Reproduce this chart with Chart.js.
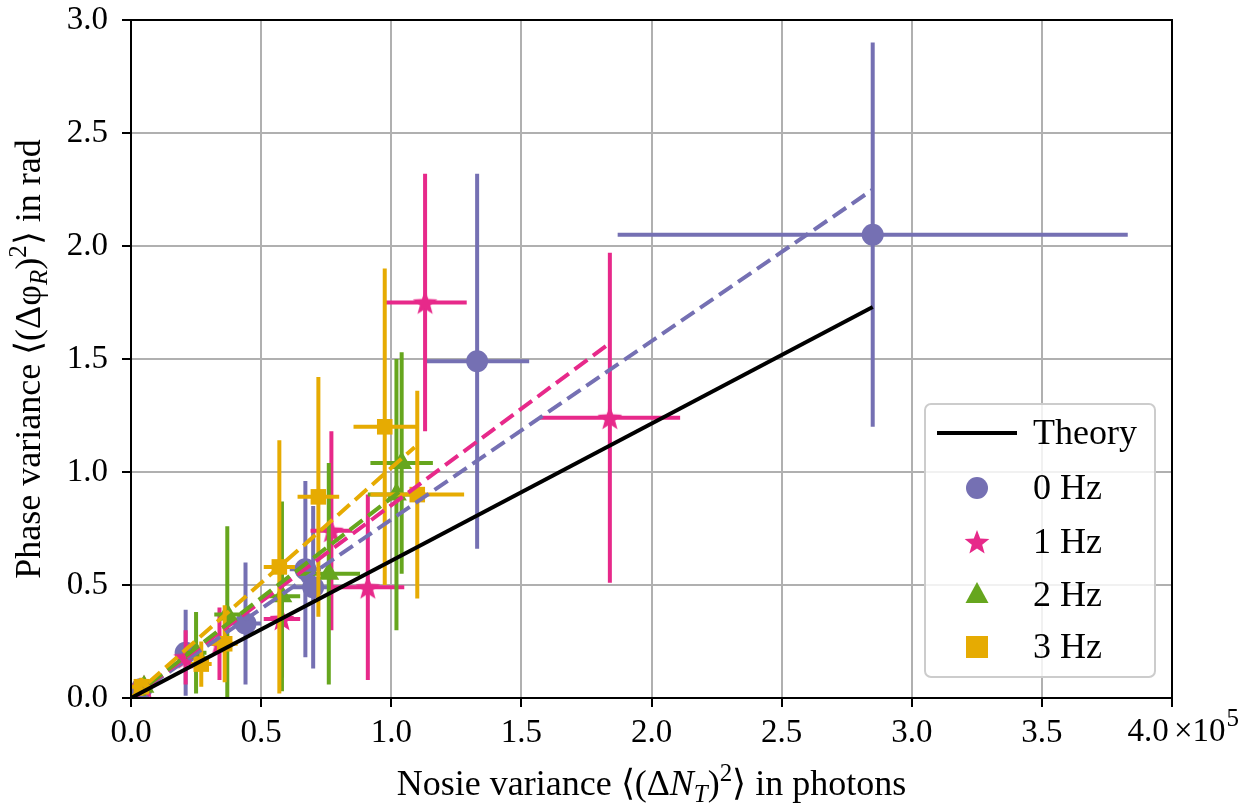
<!DOCTYPE html>
<html><head><meta charset="utf-8">
<script src="https://cdn.jsdelivr.net/npm/chart.js@4.4.1/dist/chart.umd.min.js"></script>
<style>html,body{margin:0;padding:0;background:#fff}canvas{display:block}</style>
</head><body>
<canvas id="c" width="1242" height="810"></canvas>
<script>
// ---------- data (x in units of 1e5 photons, y in rad) ----------
const seriesLabels = ['0 Hz', '1 Hz', '2 Hz', '3 Hz'];

const x0 = [0.04, 0.21, 0.44, 0.67, 0.70, 1.33, 2.85];
const y0 = [0.04, 0.20, 0.33, 0.57, 0.49, 1.49, 2.05];
const xe0 = [0.03, 0.04, 0.06, 0.06, 0.08, 0.20, 0.98];
const ye0 = [0.03, 0.19, 0.27, 0.39, 0.36, 0.83, 0.85];

const x1 = [0.05, 0.21, 0.34, 0.58, 0.77, 0.91, 1.13, 1.84];
const y1 = [0.05, 0.18, 0.24, 0.35, 0.74, 0.49, 1.75, 1.24];
const xe1 = [0.03, 0.03, 0.04, 0.07, 0.08, 0.14, 0.16, 0.27];
const ye1 = [0.03, 0.12, 0.16, 0.26, 0.44, 0.41, 0.57, 0.73];

const x2 = [0.05, 0.25, 0.37, 0.58, 0.76, 1.02, 1.04];
const y2 = [0.05, 0.20, 0.37, 0.45, 0.55, 0.90, 1.04];
const xe2 = [0.03, 0.04, 0.05, 0.07, 0.12, 0.11, 0.12];
const ye2 = [0.04, 0.18, 0.39, 0.42, 0.49, 0.60, 0.49];

const x3 = [0.04, 0.27, 0.36, 0.57, 0.72, 0.975, 1.10];
const y3 = [0.05, 0.15, 0.24, 0.58, 0.89, 1.20, 0.90];
const xe3 = [0.04, 0.04, 0.05, 0.06, 0.08, 0.12, 0.18];
const ye3 = [0.04, 0.10, 0.17, 0.56, 0.53, 0.70, 0.46];

// fitted (dashed) lines: endpoints
const fitX0 = [0, 2.85], fitY0 = [0, 2.25];
const fitX1 = [0, 1.84], fitY1 = [0, 1.57];
const fitX2 = [0, 1.04], fitY2 = [0, 0.92];
const fitX3 = [0, 1.09], fitY3 = [0, 1.11];

// theory line
const theoryX = [0, 2.85], theoryY = [0, 1.73];

const xTicks = [0, 0.5, 1, 1.5, 2, 2.5, 3, 3.5, 4];
const yTicks = [0, 0.5, 1, 1.5, 2, 2.5, 3];

// ---------- styling ----------
const colors = ['#7570b3', '#e7298a', '#66a61e', '#e6ab02'];
const FONT = '"Liberation Serif", "Times New Roman", serif';
const TICK_SIZE = 33, TITLE_SIZE = 36, SUB_SIZE = 25, LEG_SIZE = 36;

function starCanvas(color, r) {
  const c = document.createElement('canvas');
  const s = Math.ceil(2 * r + 2);
  c.width = c.height = s;
  const g = c.getContext('2d');
  g.translate(s / 2, s / 2 + 1);
  g.beginPath();
  for (let i = 0; i < 10; i++) {
    const rad = (i % 2) ? r * 0.42 : r;
    const a = -Math.PI / 2 + i * Math.PI / 5;
    g.lineTo(rad * Math.cos(a), rad * Math.sin(a));
  }
  g.closePath();
  g.fillStyle = color;
  g.fill();
  return c;
}
const starImg = starCanvas(colors[1], 13);
const markerStyles = ['circle', starImg, 'triangle', 'rect'];
const markerRadius = [11, 12, 12, 11];

function pts(xs, ys) { return xs.map((v, i) => ({x: v, y: ys[i]})); }
function errPts(xs, ys, xe, ye) {
  const out = [];
  xs.forEach((v, i) => {
    out.push({x: v - xe[i], y: ys[i]}, {x: v + xe[i], y: ys[i]}, {x: v, y: null});
    out.push({x: v, y: ys[i] - ye[i]}, {x: v, y: ys[i] + ye[i]}, {x: v, y: null});
  });
  return out;
}

const allX = [x0, x1, x2, x3], allY = [y0, y1, y2, y3];
const allXe = [xe0, xe1, xe2, xe3], allYe = [ye0, ye1, ye2, ye3];
const fitXs = [fitX0, fitX1, fitX2, fitX3], fitYs = [fitY0, fitY1, fitY2, fitY3];

const datasets = [];
for (let s = 0; s < 4; s++) {
  datasets.push({
    label: seriesLabels[s] + ' err',
    data: errPts(allX[s], allY[s], allXe[s], allYe[s]),
    showLine: true, spanGaps: false, pointRadius: 0, borderColor: colors[s],
    borderWidth: 4, borderCapStyle: 'butt', order: 40 - s * 2
  });
  datasets.push({
    label: seriesLabels[s],
    data: pts(allX[s], allY[s]),
    showLine: false, pointStyle: markerStyles[s], pointRadius: markerRadius[s],
    pointBackgroundColor: colors[s], pointBorderColor: colors[s], pointBorderWidth: 0,
    pointHoverRadius: markerRadius[s], order: 39 - s * 2
  });
}
for (let s = 0; s < 4; s++) {
  datasets.push({
    label: seriesLabels[s] + ' fit',
    data: pts(fitXs[s], fitYs[s]), showLine: true, pointRadius: 0,
    borderColor: colors[s], borderWidth: 4, borderDash: [16, 7], order: 10 - s
  });
}
datasets.push({
  label: 'Theory', data: pts(theoryX, theoryY), showLine: true, pointRadius: 0,
  borderColor: '#000', borderWidth: 4, order: 1
});

// ---------- plugins ----------
function drawRich(ctx, parts, x, y) {
  let total = 0;
  parts.forEach(p => {
    ctx.font = (p.italic ? 'italic ' : '') + (p.size || TITLE_SIZE) + 'px ' + FONT;
    p.w = ctx.measureText(p.t).width;
    total += p.w;
  });
  let cx = x - total / 2;
  parts.forEach(p => {
    ctx.font = (p.italic ? 'italic ' : '') + (p.size || TITLE_SIZE) + 'px ' + FONT;
    ctx.fillText(p.t, cx, y + (p.dy || 0));
    cx += p.w;
  });
}

const decor = {
  id: 'decor',
  afterDatasetsDraw(chart) {
    const {ctx, chartArea: a} = chart;
    ctx.save();
    ctx.strokeStyle = '#000';
    ctx.lineWidth = 2;
    ctx.strokeRect(a.left, a.top, a.right - a.left, a.bottom - a.top);
    ctx.restore();
  },
  afterDraw(chart) {
    const {ctx, chartArea: a} = chart;
    ctx.save();
    ctx.fillStyle = '#000';
    ctx.textBaseline = 'alphabetic';
    ctx.textAlign = 'left';
    // x title
    drawRich(ctx, [
      {t: 'Nosie variance \u27e8(\u0394'}, {t: 'N', italic: true},
      {t: 'T', italic: true, size: SUB_SIZE, dy: 7}, {t: ')'},
      {t: '2', size: SUB_SIZE, dy: -14}, {t: '\u27e9 in photons'}
    ], (a.left + a.right) / 2, 795);
    // last x tick label with offset text
    const xr = chart.scales.x.getPixelForValue(4);
    ctx.font = TICK_SIZE + 'px ' + FONT;
    ctx.textAlign = 'center';
    ctx.fillText('4.0', xr - 24, 741);
    ctx.textAlign = 'left';
    ctx.fillText('\u00d710', xr + 2, 741);
    const w = ctx.measureText('\u00d710').width;
    ctx.font = SUB_SIZE + 'px ' + FONT;
    ctx.fillText('5', xr + 2 + w + 1, 726);
    // y title
    ctx.translate(40, (a.top + a.bottom) / 2);
    ctx.rotate(-Math.PI / 2);
    drawRich(ctx, [
      {t: 'Phase variance \u27e8(\u0394\u03c6'},
      {t: 'R', italic: true, size: SUB_SIZE, dy: 7}, {t: ')'},
      {t: '2', size: SUB_SIZE, dy: -14}, {t: '\u27e9 in rad'}
    ], 0, 0);
    ctx.restore();

    // legend
    ctx.save();
    const L = a.right - 247, T = a.top + 384, W = 230, H = 273;
    ctx.beginPath();
    ctx.roundRect(L, T, W, H, 6);
    ctx.fillStyle = 'rgba(255,255,255,0.82)';
    ctx.fill();
    ctx.strokeStyle = '#cccccc';
    ctx.lineWidth = 2;
    ctx.stroke();
    const rows = [T + 29, T + 84, T + 138, T + 191, T + 243];
    ctx.font = LEG_SIZE + 'px ' + FONT;
    ctx.textBaseline = 'middle';
    ctx.fillStyle = '#000';
    ctx.strokeStyle = '#000';
    ctx.lineWidth = 4;
    ctx.beginPath(); ctx.moveTo(L + 12, rows[0]); ctx.lineTo(L + 92, rows[0]); ctx.stroke();
    ctx.fillText('Theory', L + 108, rows[0] + 2);
    for (let s = 0; s < 4; s++) {
      const cy = rows[s + 1], cx = L + 52;
      ctx.fillStyle = colors[s];
      ctx.beginPath();
      if (s === 0) { ctx.arc(cx, cy, 11, 0, Math.PI * 2); ctx.fill(); }
      else if (s === 1) { ctx.drawImage(starImg, cx - starImg.width / 2, cy - starImg.height / 2); }
      else if (s === 2) { ctx.moveTo(cx, cy - 13); ctx.lineTo(cx + 11.5, cy + 8); ctx.lineTo(cx - 11.5, cy + 8); ctx.closePath(); ctx.fill(); }
      else { ctx.fillRect(cx - 11, cy - 11, 22, 22); }
      ctx.fillStyle = '#000';
      ctx.fillText(seriesLabels[s], L + 108, cy + 2);
    }
    ctx.restore();
  }
};

function build() {
  new Chart(document.getElementById('c'), {
    type: 'scatter',
    data: {datasets},
    options: {
      responsive: false, animation: false, devicePixelRatio: 1,
      layout: {padding: {left: 0, top: 20, right: 70, bottom: 0}},
      plugins: {legend: {display: false}, tooltip: {enabled: false}},
      scales: {
        x: {
          type: 'linear', min: 0, max: 4,
          afterFit(s) { s.height = 112; s.paddingLeft = 0; s.paddingRight = 0; },
          afterBuildTicks(s) { s.ticks = xTicks.map(v => ({value: v})); },
          ticks: {font: {family: FONT, size: TICK_SIZE}, color: '#000', padding: 7,
            callback: v => (v >= 4 ? '' : v.toFixed(1)), maxRotation: 0, autoSkip: false},
          grid: {color: '#b0b0b0', lineWidth: 2, tickColor: '#000', tickLength: 9, tickWidth: 2},
          border: {display: true, color: '#000', width: 2}
        },
        y: {
          type: 'linear', min: 0, max: 3,
          afterFit(s) { s.width = 131; s.paddingTop = 0; s.paddingBottom = 0; },
          afterBuildTicks(s) { s.ticks = yTicks.map(v => ({value: v})); },
          ticks: {font: {family: FONT, size: TICK_SIZE}, color: '#000', padding: 14,
            callback: v => v.toFixed(1), autoSkip: false},
          grid: {color: '#b0b0b0', lineWidth: 2, tickColor: '#000', tickLength: 9, tickWidth: 2},
          border: {display: true, color: '#000', width: 2}
        }
      }
    },
    plugins: [decor]
  });
}

const fontLoads = [
  '33px "Liberation Serif"', '36px "Liberation Serif"', 'italic 25px "Liberation Serif"', 'italic 36px "Liberation Serif"'
].map(f => document.fonts.load(f).catch(() => null));
Promise.all(fontLoads).then(() => document.fonts.ready).then(build, build);
</script>
</body></html>
